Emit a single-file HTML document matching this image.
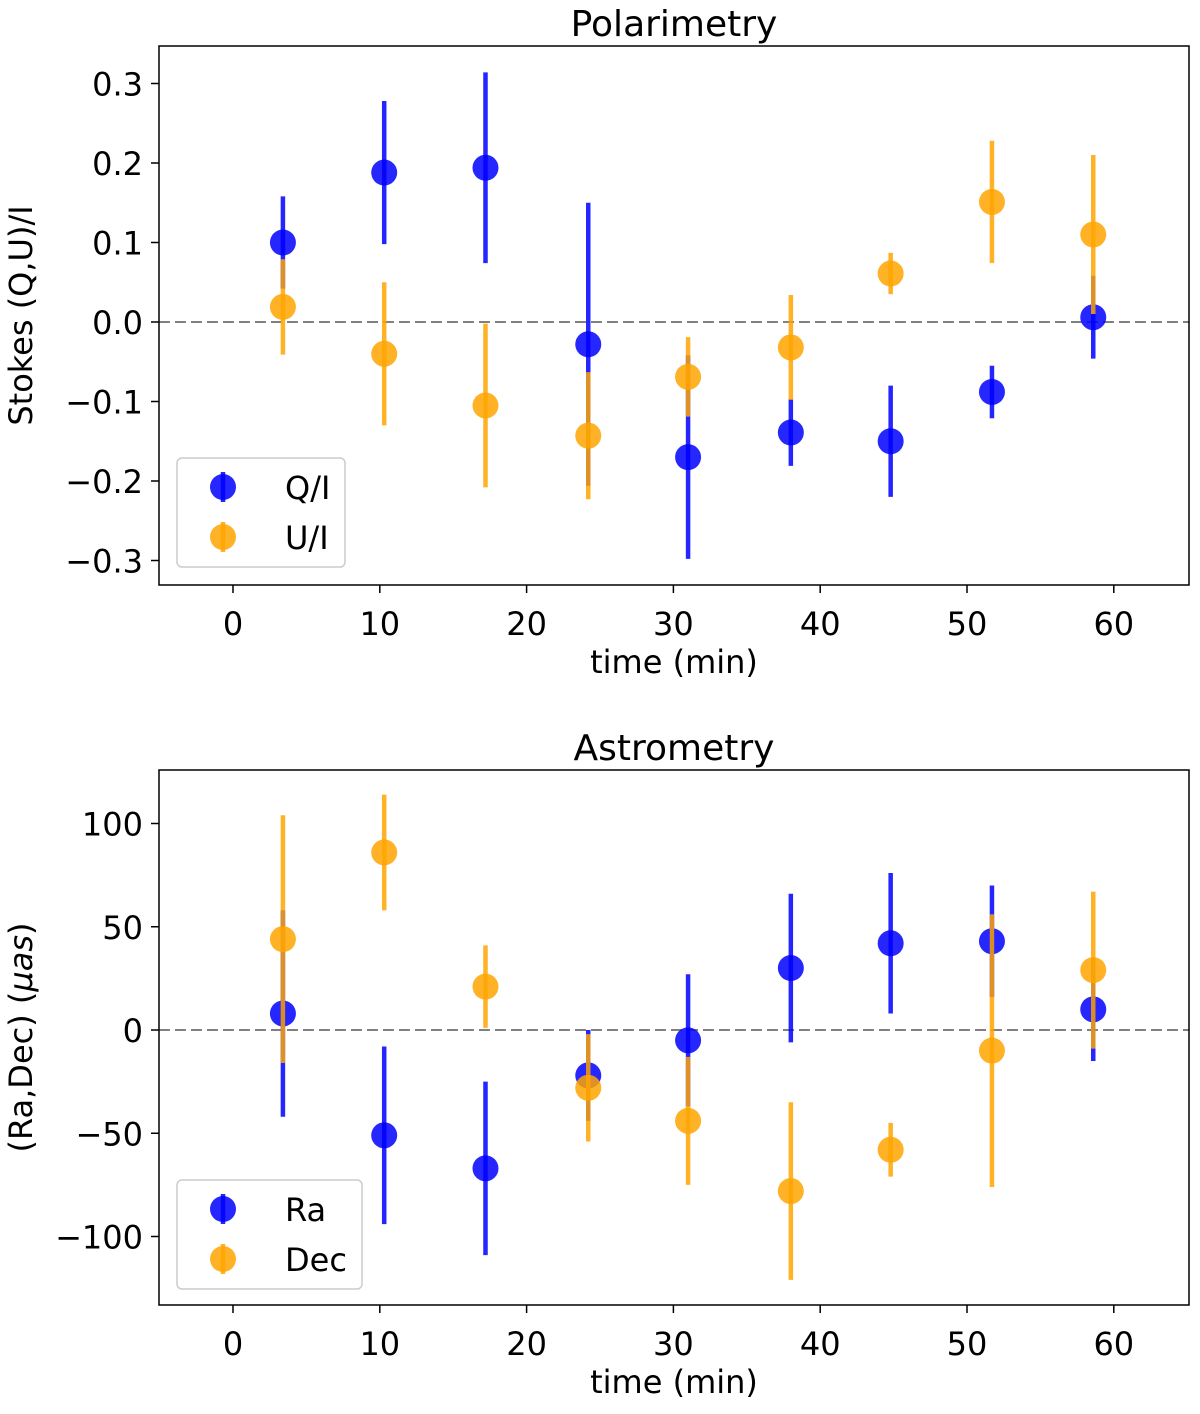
<!DOCTYPE html>
<html><head><meta charset="utf-8"><style>
body{margin:0;background:#fff}
svg text{font-family:"DejaVu Sans","Liberation Sans",sans-serif;fill:#000}
</style></head><body>
<svg id="fig" width="1200" height="1409" xmlns="http://www.w3.org/2000/svg"></svg>
<script>
const times=[3.4,10.3,17.2,24.2,31.0,38.0,44.8,51.7,58.6];
const qVals=[0.1,0.188,0.194,-0.028,-0.17,-0.139,-0.15,-0.088,0.006];
const qErr=[0.058,0.09,0.12,0.178,0.128,0.042,0.07,0.033,0.052];
const uVals=[0.019,-0.04,-0.105,-0.143,-0.069,-0.032,0.061,0.151,0.11];
const uErr=[0.06,0.09,0.103,0.08,0.05,0.066,0.026,0.077,0.1];
const raVals=[8,-51,-67,-22,-5,30,42,43,10];
const raErr=[50,43,42,22,32,36,34,27,25];
const decVals=[44,86,21,-28,-44,-78,-58,-10,29];
const decErr=[60,28,20,26,31,43,13,66,38];
const xTicks=[0,10,20,30,40,50,60];
const polTicks=[0.3,0.2,0.1,0.0,-0.1,-0.2,-0.3];
const astTicks=[100,50,0,-50,-100];
const NS="http://www.w3.org/2000/svg";
const svg=document.getElementById('fig');
function mk(t,a,p){const e=document.createElementNS(NS,t);for(const k in a)e.setAttribute(k,a[k]);(p||svg).appendChild(e);return e;}
const sx=v=>233+v*14.68;
function panel(o){
  const g=mk('g',{});
  
  
  const t=mk('text',{x:674,y:o.top-10,'font-size':36,'text-anchor':'middle'},g);t.textContent=o.title;
  
  mk('line',{x1:159,x2:1189,y1:o.sy(0),y2:o.sy(0),stroke:'#808080','stroke-width':2,'stroke-dasharray':'11,5'},g);
  xTicks.forEach(v=>{mk('line',{x1:sx(v),x2:sx(v),y1:o.bot,y2:o.bot+8,stroke:'#000','stroke-width':1.5},g);
    const l=mk('text',{x:sx(v),y:o.bot+50,'font-size':32,'text-anchor':'middle'},g);l.textContent=v;
    });
  o.ticks.forEach(v=>{mk('line',{x1:151,x2:159,y1:o.sy(v),y2:o.sy(v),stroke:'#000','stroke-width':1.5},g);
    const l=mk('text',{x:143,y:o.sy(v)+12,'font-size':32,'text-anchor':'end'},g);l.textContent=o.fmt(v);
    });
  const xl=mk('text',{x:674,y:o.bot+88,'font-size':32,'text-anchor':'middle'},g);xl.textContent='time (min)';
  
  const cy=(o.top+o.bot)/2;
  const yl=mk('text',{x:32,y:cy,'font-size':32,'text-anchor':'middle',transform:`rotate(-90 32 ${cy})`},g);yl.innerHTML=o.ylab;
  
  o.series.forEach(s=>{times.forEach((x,i)=>{
    const v=s.vals[i],e=s.err[i];
    const ln=mk('line',{x1:sx(x),x2:sx(x),y1:o.sy(v+e),y2:o.sy(v-e),stroke:s.c,'stroke-width':4.5,opacity:0.85},g);
    
    const c=mk('circle',{cx:sx(x),cy:o.sy(v),r:13,fill:s.c,opacity:0.85},g);
    });});
  mk('rect',{x:159,y:o.top,width:1030,height:o.bot-o.top,fill:'none',stroke:'#000','stroke-width':1.5},g);
  const L=o.leg;
  const lg=mk('g',{},g);
  mk('rect',{x:L.x,y:L.y,width:L.w,height:109,rx:5,fill:'#fff',stroke:'#ccc','stroke-width':1.5},lg);
  o.series.forEach((s,k)=>{const yy=L.y+29+k*50;
    mk('line',{x1:223,x2:223,y1:yy-15,y2:yy+15,stroke:s.c,'stroke-width':4.5,opacity:0.85},lg);
    mk('circle',{cx:223,cy:yy,r:13,fill:s.c,opacity:0.85},lg);
    const tx=mk('text',{x:285,y:yy+12,'font-size':32},lg);tx.textContent=s.label;
    });
}
panel({name:'polarimetry-chart',title:'Polarimetry',top:46,bot:585,sy:v=>322-v*795,ticks:polTicks,
  fmt:v=>(v<0?'\u2212':'')+Math.abs(v).toFixed(1),ylab:'Stokes (Q,U)/I',
  series:[{n:'q',vals:qVals,err:qErr,c:'#0000ff',label:'Q/I'},{n:'u',vals:uVals,err:uErr,c:'#ffa500',label:'U/I'}],
  leg:{x:177,y:458,w:168}});
panel({name:'astrometry-chart',title:'Astrometry',top:770,bot:1305,sy:v=>1030-v*2.065,ticks:astTicks,
  fmt:v=>(v<0?'\u2212':'')+Math.abs(v),ylab:'(Ra,Dec) (<tspan font-style="italic">μas</tspan>)',
  series:[{n:'ra',vals:raVals,err:raErr,c:'#0000ff',label:'Ra'},{n:'dec',vals:decVals,err:decErr,c:'#ffa500',label:'Dec'}],
  leg:{x:177,y:1180,w:185}});
</script>
</body></html>
